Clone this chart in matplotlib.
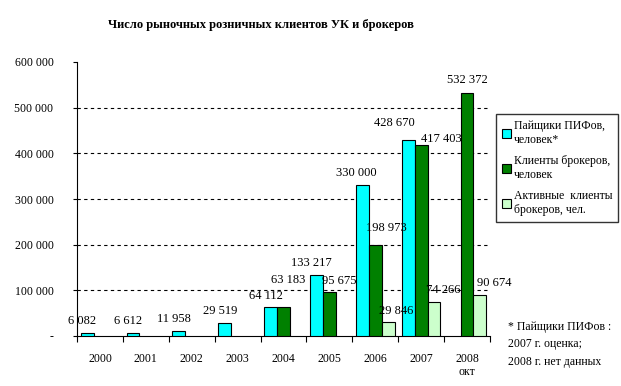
import numpy as np
import matplotlib.pyplot as plt
from matplotlib.ticker import FuncFormatter, FixedLocator

plt.rcParams['font.family'] = ['Liberation Serif', 'DejaVu Serif']

years = ['2000', '2001', '2002', '2003', '2004', '2005', '2006', '2007', '2008\nокт']
pif = [6082, 6612, 11958, 29519, 64112, 133217, 330000, 428670, np.nan]
brokers = [np.nan, np.nan, np.nan, np.nan, 63183, 95675, 198973, 417403, 532372]
active = [np.nan, np.nan, np.nan, np.nan, np.nan, np.nan, 29846, 74266, 90674]

series_names = ['Пайщики ПИФов,\nчеловек*', 'Клиенты брокеров,\nчеловек',
                'Активные  клиенты\nброкеров, чел.']
colors = ['#00FFFF', '#008000', '#CCFFCC']

# label offsets in pixels (dx, dy), imitating the Excel placement
pif_off = [(-5, 12), (-5, 12), (-5, 12), (-5, 12), (-5, 11), (-5, 12), (-6, 12), (-14, 17), (0, 0)]
brk_off = [(0, 0)] * 4 + [(5, 27), (10, 11), (11, 17), (20, 6), (0, 13)]
act_off = [(0, 0)] * 6 + [(8, 11), (9, 12), (14, 12)]

def fmt(v, pos=None):
    if v == 0:
        return '-'
    return f'{int(v):,}'.replace(',', ' ')

fig = plt.figure(figsize=(6.21, 3.86), dpi=100)
ax = fig.add_axes([77 / 621, 50 / 386, 413 / 621, 274 / 386])

x = np.arange(len(years))
w = 0.28
for i, (vals, offs) in enumerate([(pif, pif_off), (brokers, brk_off), (active, act_off)]):
    pos = x + (i - 1) * w
    ax.bar(pos, vals, width=w, color=colors[i], edgecolor='black', linewidth=0.8,
           label=series_names[i], zorder=3)
    for px, v, o in zip(pos, vals, offs):
        if np.isnan(v):
            continue
        ax.annotate(fmt(v), (px, v), xytext=o, textcoords='offset pixels',
                    ha='center', va='center', fontsize=9, zorder=4)

ax.set_xlim(-0.5, len(years) - 0.5)
ax.set_ylim(0, 600000)
ax.set_yticks(np.arange(0, 600001, 100000))
ax.yaxis.set_major_formatter(FuncFormatter(fmt))
for yv in range(100000, 600000, 100000):
    ax.axhline(yv, color='black', linestyle=(0, (3, 3)), linewidth=0.8, zorder=1)

ax.set_xticks(x)
ax.set_xticklabels(years)
ax.tick_params(axis='x', which='major', length=0, pad=12, labelsize=8.5)
ax.xaxis.set_minor_locator(FixedLocator(np.arange(-0.5, len(years), 1)))
ax.tick_params(axis='x', which='minor', length=4, direction='out', width=0.8)
ax.tick_params(axis='y', length=3, direction='out', width=0.8, pad=14, labelsize=8.5)

for s in ['top', 'right']:
    ax.spines[s].set_visible(False)
for s in ['left', 'bottom']:
    ax.spines[s].set_linewidth(0.8)

fig.text(261 / 621, 1 - 25 / 386, 'Число рыночных розничных клиентов УК и брокеров',
         ha='center', va='center', fontsize=9, fontweight='bold')

leg = fig.legend(loc='upper left', bbox_to_anchor=(496 / 621, 1 - 114 / 386),
                 borderaxespad=0, fontsize=8.5, frameon=True, fancybox=False,
                 handlelength=0.8, handleheight=0.8, handletextpad=0.2,
                 labelspacing=0.8, borderpad=0.5)
leg.get_frame().set_edgecolor('black')
leg.get_frame().set_linewidth(1)

fig.text(508 / 621, 1 - 321 / 386,
         '* Пайщики ПИФов :\n2007 г. оценка;\n2008 г. нет данных',
         ha='left', va='top', fontsize=8.5, linespacing=1.6)

fig.savefig('out.png', dpi=100)
